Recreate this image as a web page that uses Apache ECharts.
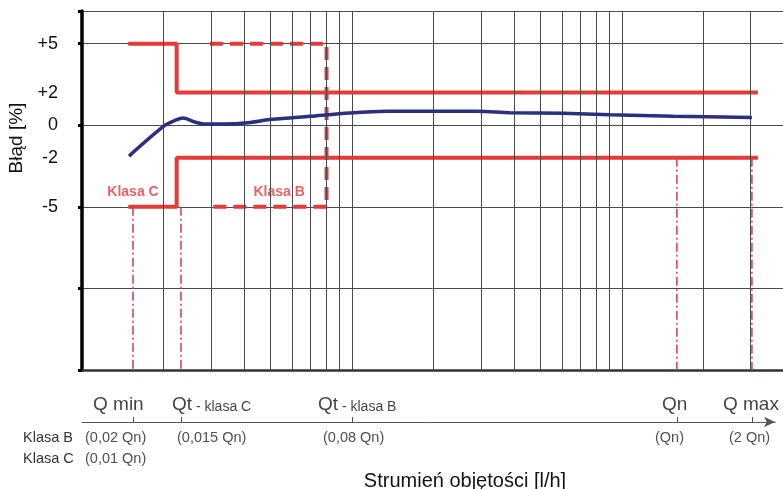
<!DOCTYPE html>
<html>
<head>
<meta charset="utf-8">
<script src="https://cdn.jsdelivr.net/npm/echarts@6/dist/echarts.min.js"></script>
<style>
html,body{margin:0;padding:0;background:#fff;}
#chart{width:783px;height:489px;}
</style>
</head>
<body>
<div id="chart"></div>
<script>
// ---- data ----
const yTickLabels = [5, 2, 0, -2, -5];
const minorGridX = [2, 3, 4, 5, 6, 7, 8, 9, 20, 30, 40, 50, 60, 70, 80, 90, 200, 300];

const flowX  = [1.493, 2.03, 2.2, 2.366, 2.6, 2.855, 3.385, 4.12, 5.055, 6.99, 9.83, 13.48, 29.04, 38.5, 60.4, 90.3, 154.5, 303];
const errorY = [-1.89, 0.0, 0.28, 0.44, 0.21, 0.07, 0.07, 0.15, 0.36, 0.55, 0.75, 0.85, 0.85, 0.77, 0.73, 0.64, 0.55, 0.48];

const classCUpperX = [1.484, 2.242, 2.242, 319];
const classCUpperY = [5, 5, 2, 2];
const classCLowerX = [1.484, 2.242, 2.242, 319];
const classCLowerY = [-5, -5, -2, -2];
const classBX = [2.977, 8.05, 8.05, 2.977];
const classBY = [5, 5, -5, -5];

const dropX   = [1.545, 2.326, 159.8, 303];
const dropTop = [-5, -5, -2, -2];
const dropBottom = -15;

const classLabelNames = ['Klasa C', 'Klasa B'];
const classLabelX = [1.545, 5.37];
const classLabelY = [-4.1, -4.1];

const qTickValues = [1.545, 2.326, 10, 159.8, 303];
const qNames    = ['Q min', 'Qt', 'Qt', 'Qn', 'Q max'];
const qSuffixes = ['', ' - klasa C', ' - klasa B', '', ''];
const klasaBNotes = ['(0,02 Qn)', '(0,015 Qn)', '(0,08 Qn)', '(Qn)', '(2 Qn)'];
const klasaCNotes = ['(0,01 Qn)', '', '', '', ''];

// ---- layout / style ----
const FONT = '"Liberation Sans", Arial, Helvetica, sans-serif';
const RED = '#e43a3a';
const BLUE = '#2c2e80';
const DROP = '#c83a5a';
const GRID = '#4a4a4a';
const topDx  = [-40, -9, -34, -15, -29];
const noteDx = [-48, -4, -29, -22, -23];

const zip = (xs, ys) => xs.map((x, i) => [x, ys[i]]);

const series = [];

// minor vertical grid lines
series.push({
  type: 'line', data: [], silent: true, z: 1,
  markLine: {
    silent: true, symbol: ['none', 'none'], label: {show: false},
    lineStyle: {color: GRID, width: 1, type: 'solid'},
    emphasis: {disabled: true},
    data: minorGridX.map(v => ({xAxis: v}))
  }
});

// drop lines (dash-dot)
dropX.forEach((x, i) => {
  series.push({
    type: 'line', silent: true, z: 3, symbol: 'none',
    data: [[x, dropTop[i]], [x, dropBottom]],
    lineStyle: {color: DROP, width: 1.5, type: [9, 3, 2, 3]}
  });
});

// class C limits
series.push({
  type: 'line', silent: true, z: 4, symbol: 'none',
  data: zip(classCUpperX, classCUpperY),
  lineStyle: {color: RED, width: 4}
});
series.push({
  type: 'line', silent: true, z: 4, symbol: 'none',
  data: zip(classCLowerX, classCLowerY),
  lineStyle: {color: RED, width: 4}
});
// class B limits (dashed)
series.push({
  type: 'line', silent: true, z: 4, symbol: 'none',
  data: zip(classBX, classBY),
  lineStyle: {color: RED, width: 4, type: [13, 7]}
});

// error curve
series.push({
  type: 'line', silent: true, z: 5, symbol: 'none', smooth: 0.3,
  data: zip(flowX, errorY),
  lineStyle: {color: BLUE, width: 3.5}
});

// class labels
series.push({
  type: 'scatter', silent: true, z: 3, symbolSize: 0,
  data: classLabelNames.map((n, i) => ({name: n, value: [classLabelX[i], classLabelY[i]]})),
  label: {
    show: true, position: 'inside', formatter: p => p.name,
    color: RED, fontWeight: 'bold', fontSize: 14, fontFamily: FONT,
    backgroundColor: '#ffffff', padding: [5, 7]
  }
});

// bottom axis labels
const bottomData = [];
qTickValues.forEach((v, i) => {
  bottomData.push({
    value: [v, 0],
    label: {
      formatter: qSuffixes[i] ? '{a|' + qNames[i] + '}{b|' + qSuffixes[i] + '}' : '{a|' + qNames[i] + '}',
      offset: [topDx[i], -18]
    }
  });
  bottomData.push({
    value: [v, 0],
    label: {formatter: '{n|' + klasaBNotes[i] + '}', offset: [noteDx[i], 16]}
  });
  if (klasaCNotes[i]) {
    bottomData.push({
      value: [v, 0],
      label: {formatter: '{n|' + klasaCNotes[i] + '}', offset: [noteDx[i], 37]}
    });
  }
});
series.push({
  type: 'scatter', silent: true, xAxisIndex: 1, yAxisIndex: 1, symbolSize: 0,
  data: bottomData,
  label: {
    show: true, position: 'inside', align: 'left', verticalAlign: 'middle',
    rich: {
      a: {fontSize: 19, color: '#111', fontFamily: FONT, verticalAlign: 'bottom', lineHeight: 20},
      b: {fontSize: 14, color: '#111', fontFamily: FONT, verticalAlign: 'bottom', lineHeight: 17},
      n: {fontSize: 14.5, color: '#222', fontFamily: FONT}
    }
  }
});

const option = {
  animation: false,
  backgroundColor: '#ffffff',
  textStyle: {fontFamily: FONT},
  grid: [
    {left: 82, right: 0, top: 11, bottom: 119},
    {left: 82, right: 8, top: 421, height: 1}
  ],
  xAxis: [
    {
      type: 'log', logBase: 10, min: 1, max: 395, gridIndex: 0,
      axisLine: {show: true, onZero: false, lineStyle: {color: '#333', width: 2.5}},
      axisTick: {show: false},
      axisLabel: {show: false},
      splitLine: {show: true, lineStyle: {color: GRID, width: 1}}
    },
    {
      type: 'log', logBase: 10, min: 1, max: 368.7, gridIndex: 1,
      axisLine: {show: true, onZero: false, symbol: ['none', 'arrow'], symbolSize: [8, 11],
                 lineStyle: {color: '#555', width: 1}},
      axisTick: {show: true, inside: true, length: 5, customValues: qTickValues,
                 lineStyle: {color: '#555', width: 1}},
      axisLabel: {show: false},
      splitLine: {show: false}
    }
  ],
  yAxis: [
    {
      type: 'value', min: -15, max: 7, interval: 5, gridIndex: 0,
      axisLine: {show: true, onZero: false, lineStyle: {color: '#000', width: 3.5}},
      axisTick: {show: true, length: 4, lineStyle: {color: '#000', width: 3}},
      axisLabel: {
        show: true, customValues: yTickLabels, margin: 24,
        fontSize: 18, color: '#111', fontFamily: FONT,
        formatter: v => (v > 0 ? '+' + v : String(v))
      },
      splitLine: {show: true, lineStyle: {color: GRID, width: 1}}
    },
    {type: 'value', min: 0, max: 1, gridIndex: 1, show: false}
  ],
  graphic: [
    {type: 'text', x: 17, y: 138, rotation: Math.PI / 2,
     style: {text: 'Błąd [%]', font: '19px ' + FONT, fill: '#111', align: 'center', verticalAlign: 'middle'}},
    {type: 'text', x: 465, y: 481,
     style: {text: 'Strumień objętości [l/h]', font: '20px ' + FONT, fill: '#111', align: 'center', verticalAlign: 'middle'}},
    {type: 'text', x: 23, y: 438,
     style: {text: 'Klasa B', font: '14.5px ' + FONT, fill: '#333', align: 'left', verticalAlign: 'middle'}},
    {type: 'text', x: 23, y: 459,
     style: {text: 'Klasa C', font: '14.5px ' + FONT, fill: '#333', align: 'left', verticalAlign: 'middle'}}
  ],
  series: series
};

const chart = echarts.init(document.getElementById('chart'), null, {renderer: 'canvas'});
chart.setOption(option);
</script>
</body>
</html>
